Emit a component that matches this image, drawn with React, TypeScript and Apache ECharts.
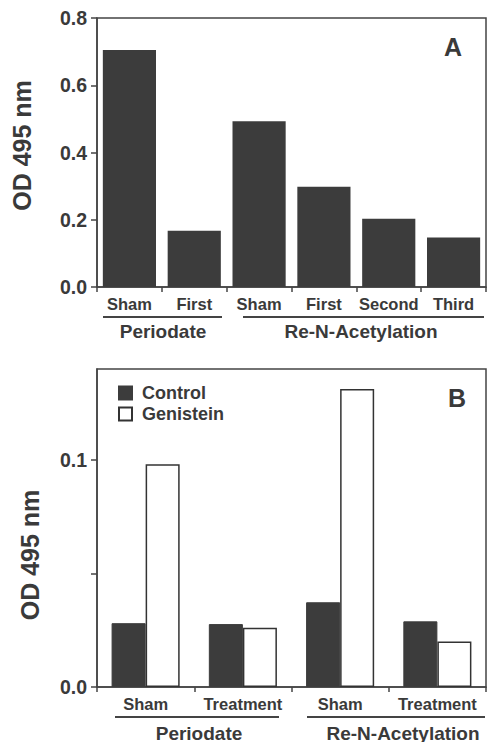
import React, { useEffect, useRef } from "react";
import * as echarts from "echarts";

const catsA = ["Sham", "First", "Sham", "First", "Second", "Third"];
const valsA = [0.705, 0.167, 0.493, 0.298, 0.203, 0.147];
const ticksA = [0, 0.2, 0.4, 0.6, 0.8];

const catsB = ["Sham", "Treatment", "Sham", "Treatment"];
const controlB = [0.0281, 0.0277, 0.0373, 0.0289];
const genisteinB = [0.0981, 0.0261, 0.1312, 0.0200];
const labeledTicksB = [0, 0.1];

const groupsA = ["Periodate", "Re-N-Acetylation"];
const groupsB = ["Periodate", "Re-N-Acetylation"];

const FONT = '"Liberation Sans", Arial, Helvetica, sans-serif';
const TXT = "#3a3a3a";
const BAR = "#3c3c3c";
const LINE = "#444";

export default function App() {
  const ref = useRef<HTMLDivElement>(null);
  useEffect(() => {
    if (!ref.current) return;
    const chart = echarts.init(ref.current, undefined, { renderer: "svg" });
    const axisLabelStyle = { color: TXT, fontFamily: FONT, fontWeight: "bold" as const };
    const option: any = {
      animation: false,
      backgroundColor: "#fff",
      textStyle: { fontFamily: FONT },
      grid: [
        { left: 97, top: 18, width: 389, height: 269, show: true, borderColor: LINE, borderWidth: 1.5, backgroundColor: "transparent" },
        { left: 97, top: 369, width: 389, height: 318, show: true, borderColor: LINE, borderWidth: 1.5, backgroundColor: "transparent" },
      ],
      legend: {
        data: ["Control", "Genistein"],
        orient: "vertical",
        left: 113,
        top: 379,
        itemWidth: 13,
        itemHeight: 13,
        itemGap: 3,
        icon: "rect",
        textStyle: { color: TXT, fontFamily: FONT, fontWeight: "bold", fontSize: 18, padding: [0, 0, 0, 5] },
      },
      xAxis: [
        {
          type: "category", gridIndex: 0, data: catsA,
          axisLine: { lineStyle: { color: LINE, width: 1.5 } },
          axisTick: { show: true, length: 5, lineStyle: { color: LINE, width: 1.5 } },
          axisLabel: { ...axisLabelStyle, fontSize: 16.5, margin: 8, interval: 0 },
        },
        {
          type: "category", gridIndex: 1, data: catsB,
          axisLine: { lineStyle: { color: LINE, width: 1.5 } },
          axisTick: { show: true, length: 5, lineStyle: { color: LINE, width: 1.5 } },
          axisLabel: { ...axisLabelStyle, fontSize: 16.5, margin: 8, interval: 0 },
        },
      ],
      yAxis: [
        {
          type: "value", gridIndex: 0, min: 0, max: 0.8, interval: 0.2,
          name: "OD 495 nm", nameLocation: "middle", nameGap: 63,
          nameTextStyle: { color: TXT, fontFamily: FONT, fontWeight: "bold", fontSize: 25, padding: [0, 0, 0, 14] },
          axisLine: { show: true, lineStyle: { color: LINE, width: 1.5 } },
          axisTick: { show: true, length: 6, lineStyle: { color: LINE, width: 1.5 } },
          splitLine: { show: false },
          axisLabel: {
            ...axisLabelStyle, fontSize: 19.5, margin: 10,
            formatter: (v: number) => (ticksA.some((t) => Math.abs(t - v) < 1e-6) ? v.toFixed(1) : ""),
          },
        },
        {
          type: "value", gridIndex: 1, min: 0, max: 0.14, interval: 0.05,
          name: "OD 495 nm", nameLocation: "middle", nameGap: 55,
          nameTextStyle: { color: TXT, fontFamily: FONT, fontWeight: "bold", fontSize: 25, padding: [0, 54, 0, 0] },
          axisLine: { show: true, lineStyle: { color: LINE, width: 1.5 } },
          axisTick: { show: true, length: 6, lineStyle: { color: LINE, width: 1.5 } },
          splitLine: { show: false },
          axisLabel: {
            ...axisLabelStyle, fontSize: 19.5, margin: 10, showMaxLabel: false,
            formatter: (v: number) => (labeledTicksB.some((t) => Math.abs(t - v) < 1e-6) ? v.toFixed(1) : ""),
          },
        },
      ],
      series: [
        {
          type: "bar", name: "A", xAxisIndex: 0, yAxisIndex: 0, data: valsA,
          barCategoryGap: "18%",
          itemStyle: { color: BAR },
        },
        {
          type: "bar", name: "Control", xAxisIndex: 1, yAxisIndex: 1, data: controlB,
          barGap: "0%", barCategoryGap: "30%",
          itemStyle: { color: BAR, borderColor: BAR, borderWidth: 1 },
        },
        {
          type: "bar", name: "Genistein", xAxisIndex: 1, yAxisIndex: 1, data: genisteinB,
          barGap: "0%", barCategoryGap: "30%",
          itemStyle: { color: "#fff", borderColor: "#333", borderWidth: 1.5 },
        },
      ],
      graphic: [
        { type: "text", left: 444, top: 34, style: { text: "A", font: `bold 25px ${FONT}`, fill: TXT } },
        { type: "text", left: 448, top: 385, style: { text: "B", font: `bold 25px ${FONT}`, fill: TXT } },
        { type: "line", shape: { x1: 103, y1: 317, x2: 222, y2: 317 }, style: { stroke: LINE, lineWidth: 2 } },
        { type: "line", shape: { x1: 243, y1: 317, x2: 484, y2: 317 }, style: { stroke: LINE, lineWidth: 2 } },
        { type: "text", x: 163, y: 331, style: { text: groupsA[0], font: `bold 19px ${FONT}`, fill: TXT, align: "center", verticalAlign: "middle" } },
        { type: "text", x: 361, y: 331, style: { text: groupsA[1], font: `bold 19px ${FONT}`, fill: TXT, align: "center", verticalAlign: "middle" } },
        { type: "line", shape: { x1: 115, y1: 717, x2: 279, y2: 717 }, style: { stroke: LINE, lineWidth: 2 } },
        { type: "line", shape: { x1: 307, y1: 717, x2: 485, y2: 717 }, style: { stroke: LINE, lineWidth: 2 } },
        { type: "text", x: 199, y: 733, style: { text: groupsB[0], font: `bold 19px ${FONT}`, fill: TXT, align: "center", verticalAlign: "middle" } },
        { type: "text", x: 403, y: 733, style: { text: groupsB[1], font: `bold 19px ${FONT}`, fill: TXT, align: "center", verticalAlign: "middle" } },
      ],
    };
    chart.setOption(option);
    return () => chart.dispose();
  }, []);
  return (
    <div
      ref={ref}
      style={{ position: "fixed", left: 0, top: 0, width: 487, height: 742, background: "#fff" }}
    />
  );
}
